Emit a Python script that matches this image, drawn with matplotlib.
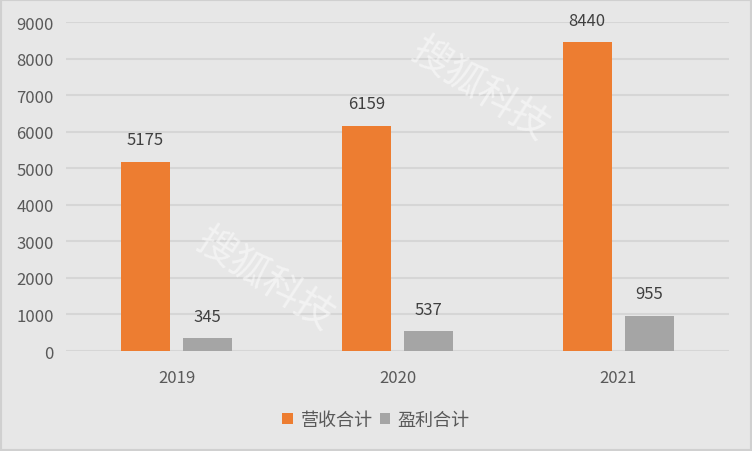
import numpy as np
import matplotlib.pyplot as plt
from matplotlib.patches import Rectangle

plt.rcParams['font.family'] = ['Noto Sans CJK SC', 'DejaVu Sans']

years = ['2019', '2020', '2021']
revenue = [5175, 6159, 8440]
profit = [345, 537, 955]
series_names = ['营收合计', '盈利合计']
yticks = [0, 1000, 2000, 3000, 4000, 5000, 6000, 7000, 8000, 9000]

bg = '#E7E7E7'
orange = '#ED7D31'
gray = '#A5A5A5'
text_col = '#595959'

fig = plt.figure(figsize=(7.52, 4.52), dpi=100, facecolor=bg)
ax = fig.add_axes([0.0878, 0.2212, 0.8815, 0.7279])
ax.set_facecolor(bg)

x = np.arange(len(years))
w = 0.222
off = 0.141
b1 = ax.bar(x - off, revenue, w, color=orange, label=series_names[0], zorder=3)
b2 = ax.bar(x + off, profit, w, color=gray, label=series_names[1], zorder=3)

for bars in (b1, b2):
    for rect in bars:
        h = rect.get_height()
        ax.annotate(str(int(h)), (rect.get_x() + rect.get_width() / 2, h),
                    xytext=(0, 16), textcoords='offset points',
                    ha='center', va='center', fontsize=12, color='#404040')

ax.set_xlim(-0.5, 2.5)
ax.set_ylim(0, 9000)
ax.set_yticks(yticks)
ax.set_xticks(x)
ax.set_xticklabels(years)
ax.grid(axis='y', color='#D6D6D6', linewidth=1.5, zorder=0)
ax.tick_params(axis='both', length=0, labelsize=12, labelcolor=text_col)
ax.tick_params(axis='y', pad=9)
ax.tick_params(axis='x', pad=13)
for s in ax.spines.values():
    s.set_visible(False)

# watermarks
for (wx, wy) in [(480, 90), (265, 280)]:
    fig.text(wx / 752, 1 - wy / 452, '搜狐科技', fontsize=28, color='white',
             alpha=0.5, rotation=-33, ha='center', va='center', zorder=5,
             fontweight='light')

leg = fig.legend(loc='center', bbox_to_anchor=(0.5, 1 - 421 / 452), ncol=2,
                 frameon=False, fontsize=13, handlelength=0.6, handleheight=0.6,
                 handletextpad=0.4, columnspacing=0.4)
for t in leg.get_texts():
    t.set_color(text_col)

fig.patches.append(Rectangle((0, 0), 1, 1, transform=fig.transFigure,
                             fill=False, edgecolor='#D0D0D0', linewidth=3))

fig.savefig('out.png', dpi=100, facecolor=bg)
